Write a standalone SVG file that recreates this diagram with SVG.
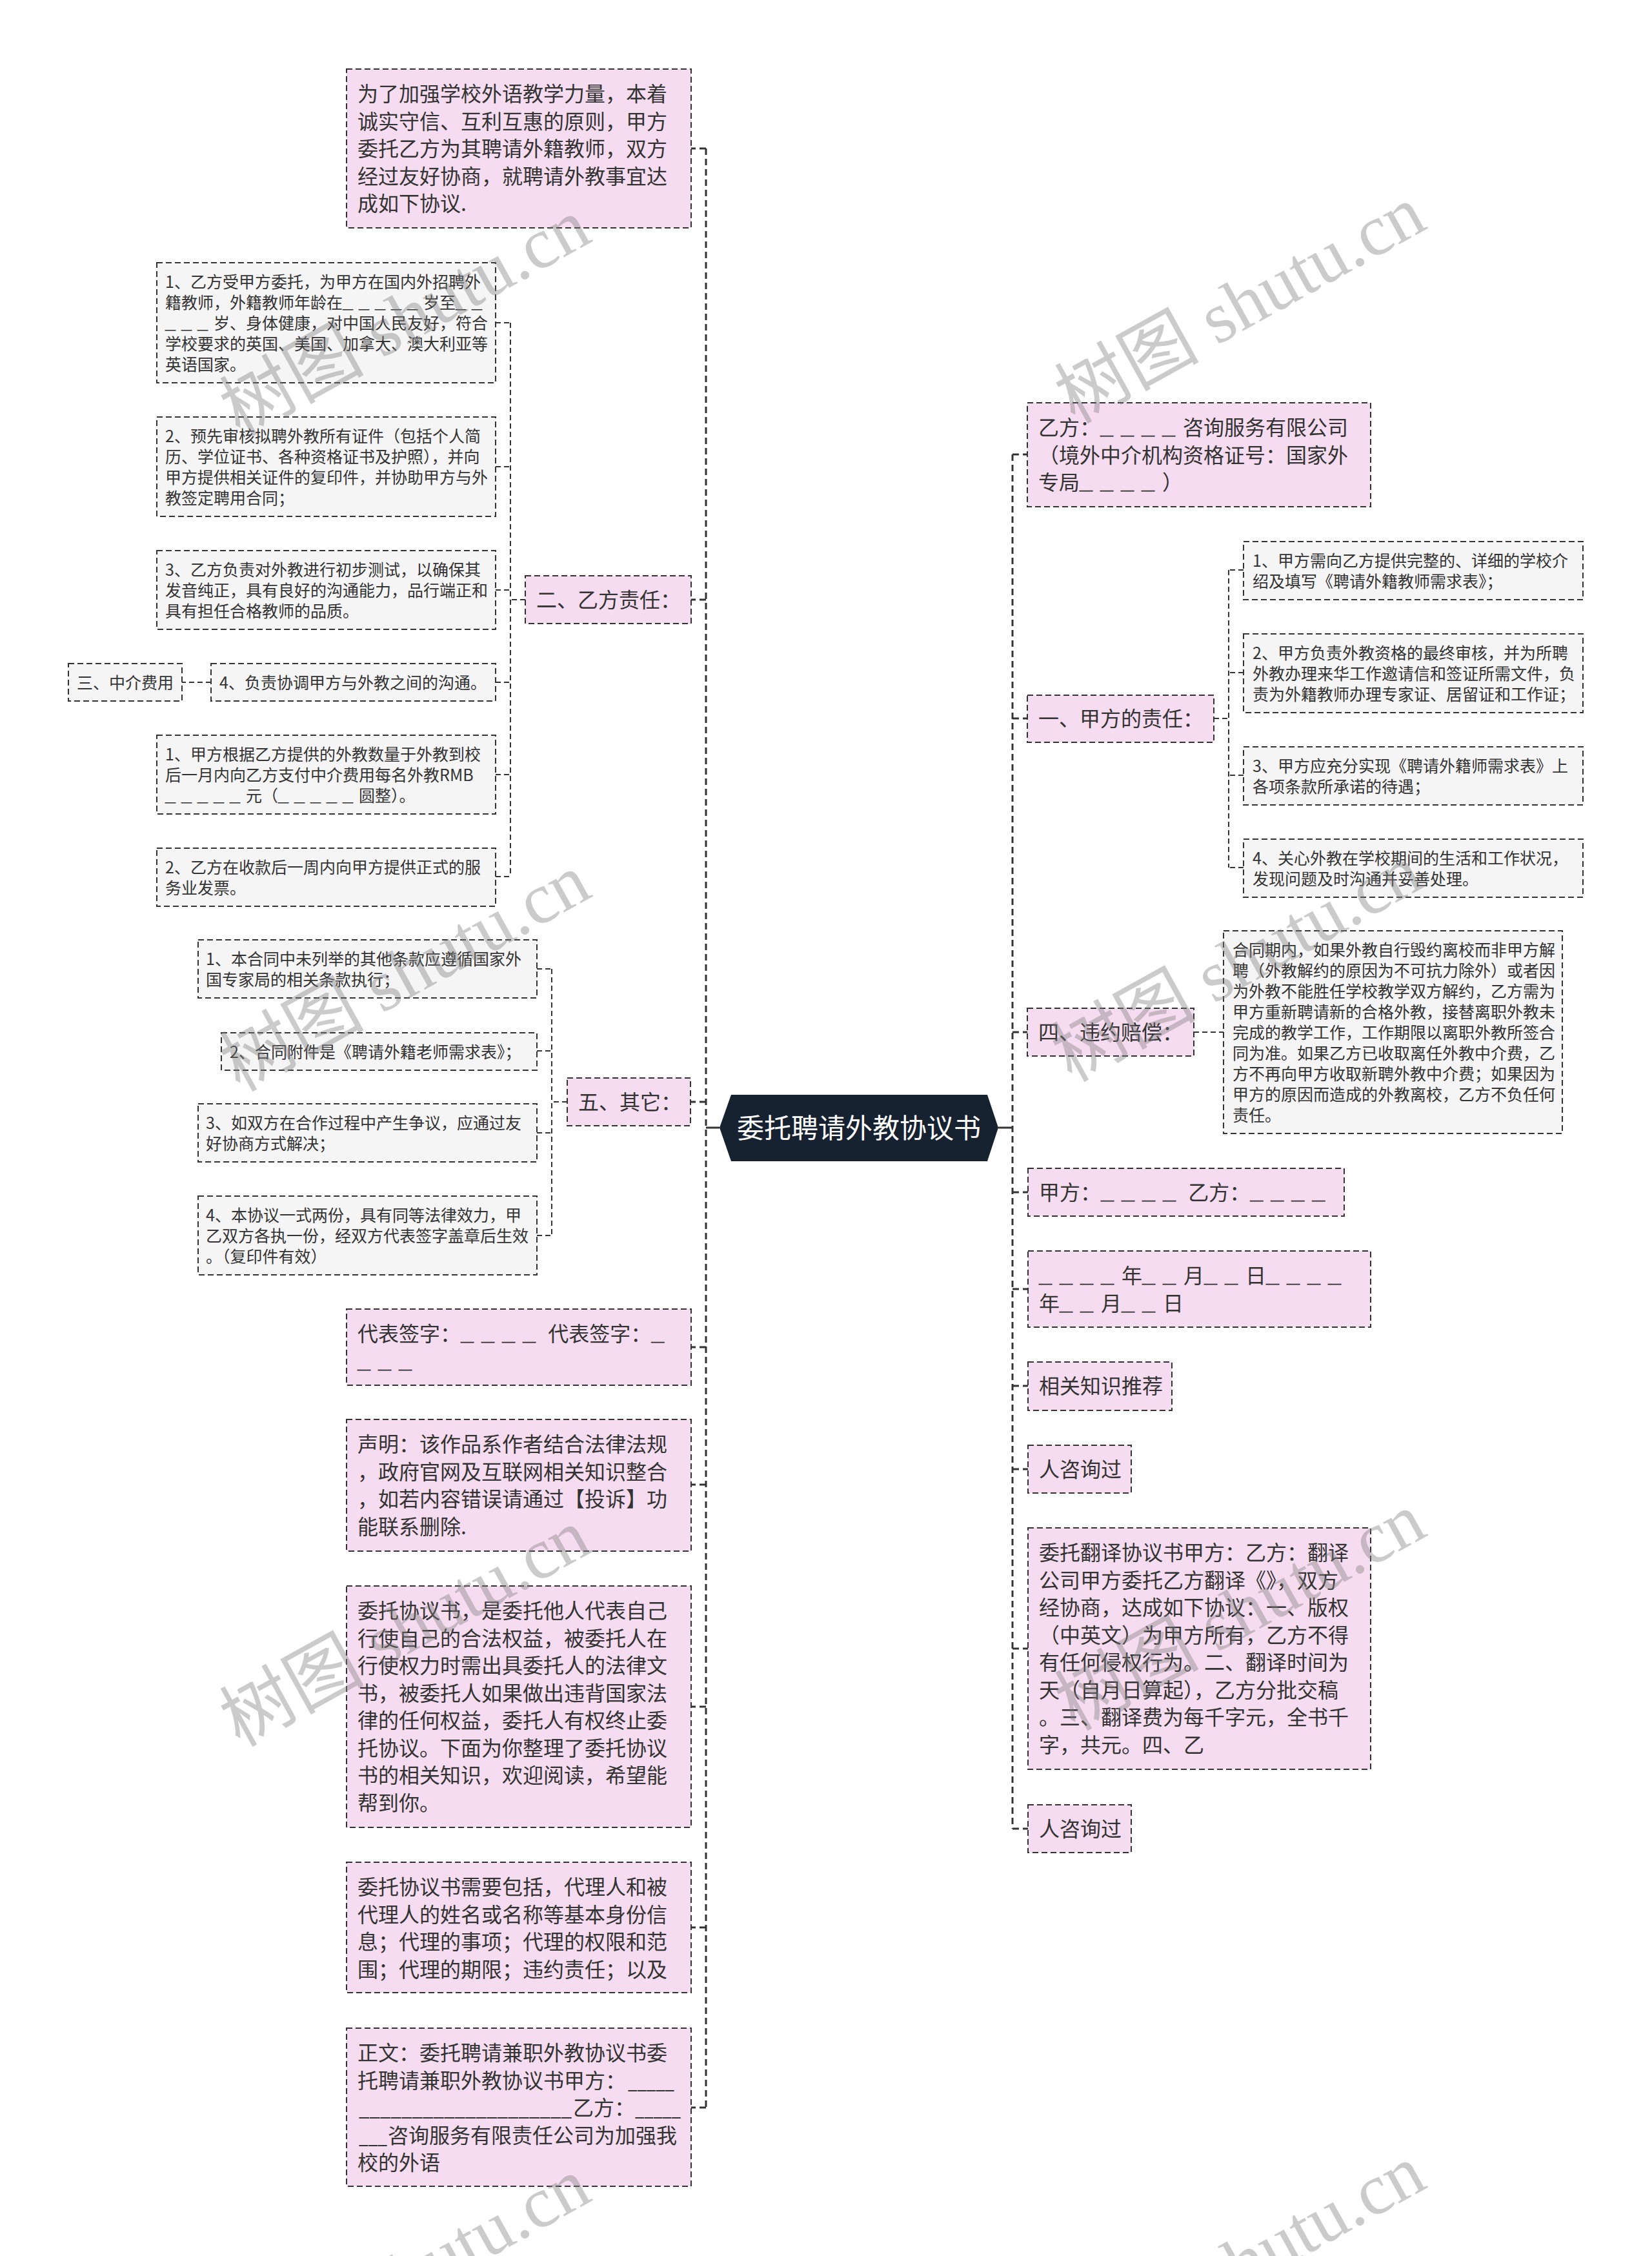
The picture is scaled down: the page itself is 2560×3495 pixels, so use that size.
<svg xmlns="http://www.w3.org/2000/svg" width="2560" height="3495" viewBox="0 0 2560 3495">
<style>
.pk{fill:#f6dcf0;stroke:#333;stroke-width:2;stroke-dasharray:9 5}
.gy{fill:#f5f5f5;stroke:#333;stroke-width:2;stroke-dasharray:9 5}
.t{font-family:"Noto Sans CJK SC","Noto Sans",sans-serif;fill:#333}
.L{font-size:32px}
.S{font-size:25px}
.L .u{font-size:20px;letter-spacing:12px;stroke:#333;stroke-width:1}
.S .u{font-size:16px;letter-spacing:9px;stroke:#333;stroke-width:0.8}
.ln{fill:none;stroke:#333;stroke-width:3;stroke-dasharray:10 6}
.sl{fill:none;stroke:#333;stroke-width:2;stroke-dasharray:8 5}
.wm{font-family:"Liberation Serif","Noto Sans CJK SC",serif;font-size:112px;fill:#808080;opacity:0.4}
</style>
<rect width="2560" height="3495" fill="#fff"/>
<g id="connectors">
<line class="ln" x1="1094" y1="230" x2="1094" y2="3265"/>
<line class="ln" x1="1569" y1="704" x2="1569" y2="2833"/>
<path d="M1115 1747H1094M1547 1747H1569" fill="none" stroke="#333" stroke-width="3"/>
<path class="ln" d="M1094 230H1071M1094 929H1071M1094 1707H1070M1094 2087H1071M1094 2300H1071M1094 2644H1071M1094 2986H1071M1094 3265H1071"/>
<path class="ln" d="M1569 704H1592M1569 1113H1592M1569 1599H1592M1569 1847H1593M1569 1997H1593M1569 2147H1593M1569 2276H1593M1569 2554H1593M1569 2833H1593"/>
<line class="sl" x1="791" y1="500" x2="791" y2="1358"/>
<path class="sl" d="M814 929H791M768 500H791M768 723H791M768 914H791M768 1057H791M768 1200H791M768 1358H791M327 1057H282"/>
<line class="sl" x1="855" y1="1501" x2="855" y2="1914"/>
<path class="sl" d="M879 1707H855M832 1501H855M832 1628H855M832 1755H855M832 1914H855"/>
<line class="sl" x1="1904" y1="883" x2="1904" y2="1344"/>
<path class="sl" d="M1881 1113H1904M1927 883H1904M1927 1042H1904M1927 1201H1904M1927 1344H1904M1850 1599H1896"/>
</g>
<g id="root">
<polygon points="1115,1747 1133,1696 1530,1696 1547,1747 1530,1799 1133,1799" fill="#172231"/>
<text class="t" x="1331" y="1763" font-size="42" text-anchor="middle" style="fill:#fff">委托聘请外教协议书</text>
</g>
<g id="n-intro">
<rect class="pk" x="537" y="107" width="534" height="246"/>
<text class="t L"><tspan x="554" y="157">为了加强学校外语教学力量，本着</tspan><tspan x="554" y="199.5">诚实守信、互利互惠的原则，甲方</tspan><tspan x="554" y="242">委托乙方为其聘请外籍教师，双方</tspan><tspan x="554" y="284.5">经过友好协商，就聘请外教事宜达</tspan><tspan x="554" y="327">成如下协议.</tspan></text>
</g>
<g id="n-yifang-duty">
<rect class="pk" x="814" y="892" width="257" height="74"/>
<text class="t L" x="831" y="941">二、乙方责任：</text>
</g>
<g id="n-b1">
<rect class="gy" x="243" y="407" width="525" height="186"/>
<text class="t S"><tspan x="256" y="445.5">1、乙方受甲方委托，为甲方在国内外招聘外</tspan><tspan x="256" y="477.5">籍教师，外籍教师年龄在<tspan class="u">＿＿＿＿＿</tspan>岁至<tspan class="u">＿＿</tspan></tspan><tspan x="256" y="509.5"><tspan class="u">＿＿＿</tspan>岁、身体健康，对中国人民友好，符合</tspan><tspan x="256" y="541.5">学校要求的英国、美国、加拿大、澳大利亚等</tspan><tspan x="256" y="573.5">英语国家。</tspan></text>
</g>
<g id="n-b2">
<rect class="gy" x="243" y="646" width="525" height="154"/>
<text class="t S"><tspan x="256" y="684.5">2、预先审核拟聘外教所有证件（包括个人简</tspan><tspan x="256" y="716.5">历、学位证书、各种资格证书及护照），并向</tspan><tspan x="256" y="748.5">甲方提供相关证件的复印件，并协助甲方与外</tspan><tspan x="256" y="780.5">教签定聘用合同；</tspan></text>
</g>
<g id="n-b3">
<rect class="gy" x="243" y="853" width="525" height="122"/>
<text class="t S"><tspan x="256" y="891.5">3、乙方负责对外教进行初步测试，以确保其</tspan><tspan x="256" y="923.5">发音纯正，具有良好的沟通能力，品行端正和</tspan><tspan x="256" y="955.5">具有担任合格教师的品质。</tspan></text>
</g>
<g id="n-b4">
<rect class="gy" x="327" y="1028" width="441" height="58"/>
<text class="t S" x="340" y="1066.5">4、负责协调甲方与外教之间的沟通。</text>
</g>
<g id="n-fee">
<rect class="gy" x="106" y="1028" width="176" height="58"/>
<text class="t S" x="119" y="1066.5">三、中介费用</text>
</g>
<g id="n-b5">
<rect class="gy" x="243" y="1139" width="525" height="122"/>
<text class="t S"><tspan x="256" y="1177.5">1、甲方根据乙方提供的外教数量于外教到校</tspan><tspan x="256" y="1209.5">后一月内向乙方支付中介费用每名外教RMB</tspan><tspan x="256" y="1241.5"><tspan class="u">＿＿＿＿＿</tspan>元（<tspan class="u">＿＿＿＿＿</tspan>圆整）。</tspan></text>
</g>
<g id="n-b6">
<rect class="gy" x="243" y="1314" width="525" height="90"/>
<text class="t S"><tspan x="256" y="1352.5">2、乙方在收款后一周内向甲方提供正式的服</tspan><tspan x="256" y="1384.5">务业发票。</tspan></text>
</g>
<g id="n-other">
<rect class="pk" x="879" y="1670" width="191" height="74"/>
<text class="t L" x="896" y="1719">五、其它：</text>
</g>
<g id="n-c1">
<rect class="gy" x="307" y="1456" width="525" height="90"/>
<text class="t S"><tspan x="319" y="1494.5">1、本合同中未列举的其他条款应遵循国家外</tspan><tspan x="319" y="1526.5">国专家局的相关条款执行；</tspan></text>
</g>
<g id="n-c2">
<rect class="gy" x="343" y="1600" width="489" height="58"/>
<text class="t S" x="356" y="1638.5">2、合同附件是《聘请外籍老师需求表》；</text>
</g>
<g id="n-c3">
<rect class="gy" x="307" y="1710" width="525" height="90"/>
<text class="t S"><tspan x="319" y="1748.5">3、如双方在合作过程中产生争议，应通过友</tspan><tspan x="319" y="1780.5">好协商方式解决；</tspan></text>
</g>
<g id="n-c4">
<rect class="gy" x="307" y="1853" width="525" height="122"/>
<text class="t S"><tspan x="319" y="1891.5">4、本协议一式两份，具有同等法律效力，甲</tspan><tspan x="319" y="1923.5">乙双方各执一份，经双方代表签字盖章后生效</tspan><tspan x="319" y="1955.5">。（复印件有效）</tspan></text>
</g>
<g id="n-sign">
<rect class="pk" x="537" y="2028" width="534" height="118"/>
<text class="t L"><tspan x="554" y="2078">代表签字：<tspan class="u">＿＿＿＿</tspan> 代表签字：<tspan class="u">＿</tspan></tspan><tspan x="554" y="2120.5"><tspan class="u">＿＿＿</tspan></tspan></text>
</g>
<g id="n-statement">
<rect class="pk" x="537" y="2199" width="534" height="204"/>
<text class="t L"><tspan x="554" y="2249">声明：该作品系作者结合法律法规</tspan><tspan x="554" y="2291.5">，政府官网及互联网相关知识整合</tspan><tspan x="554" y="2334">，如若内容错误请通过【投诉】功</tspan><tspan x="554" y="2376.5">能联系删除.</tspan></text>
</g>
<g id="n-intro2">
<rect class="pk" x="537" y="2457" width="534" height="374"/>
<text class="t L"><tspan x="554" y="2507">委托协议书，是委托他人代表自己</tspan><tspan x="554" y="2549.5">行使自己的合法权益，被委托人在</tspan><tspan x="554" y="2592">行使权力时需出具委托人的法律文</tspan><tspan x="554" y="2634.5">书，被委托人如果做出违背国家法</tspan><tspan x="554" y="2677">律的任何权益，委托人有权终止委</tspan><tspan x="554" y="2719.5">托协议。下面为你整理了委托协议</tspan><tspan x="554" y="2762">书的相关知识，欢迎阅读，希望能</tspan><tspan x="554" y="2804.5">帮到你。</tspan></text>
</g>
<g id="n-include">
<rect class="pk" x="537" y="2885" width="534" height="202"/>
<text class="t L"><tspan x="554" y="2935">委托协议书需要包括，代理人和被</tspan><tspan x="554" y="2977.5">代理人的姓名或名称等基本身份信</tspan><tspan x="554" y="3020">息；代理的事项；代理的权限和范</tspan><tspan x="554" y="3062.5">围；代理的期限；违约责任；以及</tspan></text>
</g>
<g id="n-body">
<rect class="pk" x="537" y="3142" width="534" height="245"/>
<text class="t L" x="554" y="3192">正文：委托聘请兼职外教协议书委</text>
<text class="t L" x="554" y="3234.5">托聘请兼职外教协议书甲方：</text>
<text class="t L" x="973" y="3234.5" textLength="72" lengthAdjust="spacingAndGlyphs">_____</text>
<text class="t L" x="556" y="3277" textLength="330" lengthAdjust="spacingAndGlyphs">____________________</text>
<text class="t L" x="888" y="3277">乙方：</text>
<text class="t L" x="984" y="3277" textLength="71" lengthAdjust="spacingAndGlyphs">_____</text>
<text class="t L" x="556" y="3319.5" textLength="44" lengthAdjust="spacingAndGlyphs">___</text>
<text class="t L" x="601" y="3319.5">咨询服务有限责任公司为加强我</text>
<text class="t L" x="554" y="3362">校的外语</text>
</g>
<g id="n-yifang">
<rect class="pk" x="1592" y="624" width="532" height="161"/>
<text class="t L"><tspan x="1609" y="674">乙方：<tspan class="u">＿＿＿＿</tspan>咨询服务有限公司</tspan><tspan x="1609" y="716.5">（境外中介机构资格证号：国家外</tspan><tspan x="1609" y="759">专局<tspan class="u">＿＿＿＿</tspan>）</tspan></text>
</g>
<g id="n-jiafang-duty">
<rect class="pk" x="1592" y="1077" width="289" height="73"/>
<text class="t L" x="1609" y="1125">一、甲方的责任：</text>
</g>
<g id="n-d1">
<rect class="gy" x="1927" y="839" width="526" height="90"/>
<text class="t S"><tspan x="1941" y="877.5">1、甲方需向乙方提供完整的、详细的学校介</tspan><tspan x="1941" y="909.5">绍及填写《聘请外籍教师需求表》；</tspan></text>
</g>
<g id="n-d2">
<rect class="gy" x="1927" y="982" width="526" height="122"/>
<text class="t S"><tspan x="1941" y="1020.5">2、甲方负责外教资格的最终审核，并为所聘</tspan><tspan x="1941" y="1052.5">外教办理来华工作邀请信和签证所需文件，负</tspan><tspan x="1941" y="1084.5">责为外籍教师办理专家证、居留证和工作证；</tspan></text>
</g>
<g id="n-d3">
<rect class="gy" x="1927" y="1157" width="526" height="90"/>
<text class="t S"><tspan x="1941" y="1195.5">3、甲方应充分实现《聘请外籍师需求表》上</tspan><tspan x="1941" y="1227.5">各项条款所承诺的待遇；</tspan></text>
</g>
<g id="n-d4">
<rect class="gy" x="1927" y="1300" width="526" height="90"/>
<text class="t S"><tspan x="1941" y="1338.5">4、关心外教在学校期间的生活和工作状况，</tspan><tspan x="1941" y="1370.5">发现问题及时沟通并妥善处理。</tspan></text>
</g>
<g id="n-breach">
<rect class="pk" x="1592" y="1562" width="258" height="74"/>
<text class="t L" x="1609" y="1611">四、违约赔偿：</text>
</g>
<g id="n-e1">
<rect class="gy" x="1896" y="1442" width="525" height="314"/>
<text class="t S"><tspan x="1910" y="1480.5">合同期内，如果外教自行毁约离校而非甲方解</tspan><tspan x="1910" y="1512.5">聘（外教解约的原因为不可抗力除外）或者因</tspan><tspan x="1910" y="1544.5">为外教不能胜任学校教学双方解约，乙方需为</tspan><tspan x="1910" y="1576.5">甲方重新聘请新的合格外教，接替离职外教未</tspan><tspan x="1910" y="1608.5">完成的教学工作，工作期限以离职外教所签合</tspan><tspan x="1910" y="1640.5">同为准。如果乙方已收取离任外教中介费，乙</tspan><tspan x="1910" y="1672.5">方不再向甲方收取新聘外教中介费；如果因为</tspan><tspan x="1910" y="1704.5">甲方的原因而造成的外教离校，乙方不负任何</tspan><tspan x="1910" y="1736.5">责任。</tspan></text>
</g>
<g id="n-parties">
<rect class="pk" x="1593" y="1810" width="490" height="74"/>
<text class="t L" x="1610" y="1859">甲方：<tspan class="u">＿＿＿＿</tspan> 乙方：<tspan class="u">＿＿＿＿</tspan></text>
</g>
<g id="n-date">
<rect class="pk" x="1593" y="1938" width="531" height="118"/>
<text class="t L"><tspan x="1610" y="1988"><tspan class="u">＿＿＿＿</tspan>年<tspan class="u">＿＿</tspan>月<tspan class="u">＿＿</tspan>日<tspan class="u">＿＿＿＿</tspan></tspan><tspan x="1610" y="2030.5">年<tspan class="u">＿＿</tspan>月<tspan class="u">＿＿</tspan>日</tspan></text>
</g>
<g id="n-related">
<rect class="pk" x="1593" y="2110" width="223" height="75"/>
<text class="t L" x="1610" y="2159">相关知识推荐</text>
</g>
<g id="n-consult1">
<rect class="pk" x="1593" y="2239" width="160" height="74"/>
<text class="t L" x="1610" y="2288">人咨询过</text>
</g>
<g id="n-translate">
<rect class="pk" x="1593" y="2367" width="531" height="374"/>
<text class="t L"><tspan x="1610" y="2417">委托翻译协议书甲方：乙方：翻译</tspan><tspan x="1610" y="2459.5">公司甲方委托乙方翻译《》，双方</tspan><tspan x="1610" y="2502">经协商，达成如下协议：一、版权</tspan><tspan x="1610" y="2544.5">（中英文）为甲方所有，乙方不得</tspan><tspan x="1610" y="2587">有任何侵权行为。二、翻译时间为</tspan><tspan x="1610" y="2629.5">天（自月日算起），乙方分批交稿</tspan><tspan x="1610" y="2672">。三、翻译费为每千字元，全书千</tspan><tspan x="1610" y="2714.5">字，共元。四、乙</tspan></text>
</g>
<g id="n-consult2">
<rect class="pk" x="1593" y="2796" width="160" height="74"/>
<text class="t L" x="1610" y="2845">人咨询过</text>
</g>
<g id="watermarks">
<text class="wm" transform="translate(646,525) rotate(-29)" text-anchor="middle">树图 shutu.cn</text>
<text class="wm" transform="translate(1940,505) rotate(-29)" text-anchor="middle">树图 shutu.cn</text>
<text class="wm" transform="translate(646,1540) rotate(-29)" text-anchor="middle">树图 shutu.cn</text>
<text class="wm" transform="translate(1935,1525) rotate(-29)" text-anchor="middle">树图 shutu.cn</text>
<text class="wm" transform="translate(646,2555) rotate(-29)" text-anchor="middle">树图 shutu.cn</text>
<text class="wm" transform="translate(1940,2530) rotate(-29)" text-anchor="middle">树图 shutu.cn</text>
<text class="wm" transform="translate(646,3560) rotate(-29)" text-anchor="middle">树图 shutu.cn</text>
<text class="wm" transform="translate(1940,3540) rotate(-29)" text-anchor="middle">树图 shutu.cn</text>
</g>
</svg>
